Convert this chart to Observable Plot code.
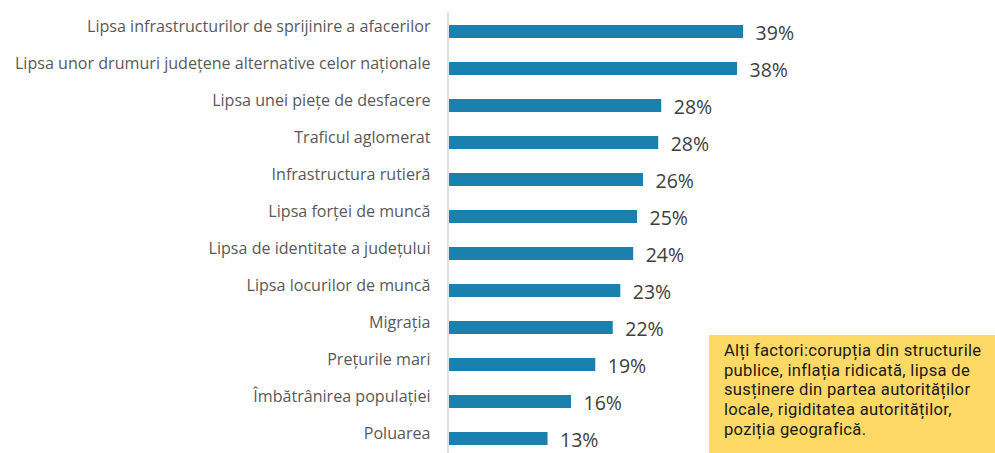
<!DOCTYPE html>
<html>
<head>
<meta charset="utf-8">
<script src="https://cdn.jsdelivr.net/npm/d3@7"></script>
<script src="https://cdn.jsdelivr.net/npm/@observablehq/plot@0.6"></script>
<style>
  html, body { margin: 0; padding: 0; background: #fff; }
  #wrap { position: relative; width: 995px; height: 453px; overflow: hidden; }
  #note {
    position: absolute; left: 709px; top: 335px; width: 286px; height: 118px;
    background: #ffd966; box-sizing: border-box; padding: 6px 0 0 15px;
    font-family: Roboto, sans-serif; font-size: 16.6px; letter-spacing: 0.3px; color: #1a1a1a;
    white-space: nowrap;
  }
  #note div { height: 19.7px; line-height: 19.7px; overflow: visible; }
</style>
</head>
<body>
<div id="wrap"></div>
<script>
const categories = [
  "Lipsa infrastructurilor de sprijinire a afacerilor",
  "Lipsa unor drumuri județene alternative celor naționale",
  "Lipsa unei piețe de desfacere",
  "Traficul aglomerat",
  "Infrastructura rutieră",
  "Lipsa forței de muncă",
  "Lipsa de identitate a județului",
  "Lipsa locurilor de muncă",
  "Migrația",
  "Prețurile mari",
  "Îmbătrânirea populației",
  "Poluarea"
];
// values (labels show them rounded)
const values = [38.8, 38.0, 28.0, 27.6, 25.6, 24.8, 24.3, 22.6, 21.6, 19.3, 16.1, 13.0];
const noteLines = [
  "Alți factori:corupția din structurile",
  "publice, inflația ridicată, lipsa de",
  "susținere din partea autorităților",
  "locale, rigiditatea autorităților,",
  "poziția geografică."
];

const data = categories.map((c, i) => ({category: c, value: values[i]}));

const chart = Plot.plot({
  width: 995,
  height: 453,
  marginLeft: 449,
  marginRight: 167,
  marginTop: 23.4,
  marginBottom: 6.4,
  style: {fontFamily: "'Open Sans', sans-serif", background: "#fff"},
  x: {domain: [0, 50], axis: null},
  y: {domain: categories, paddingInner: 0.66, paddingOuter: 0, label: null},
  marks: [
    Plot.barX(data, {x: "value", y: "category", fill: "#1a80ad"}),
    Plot.ruleX([0], {stroke: "#d9d9d9", strokeWidth: 1.5, dx: -1.5, insetTop: -11, insetBottom: -7}),
    Plot.axisY({tickSize: 0, tickPadding: 19, fontSize: 16.1, dy: -5, fill: "#595959", label: null}),
    Plot.text(data, {x: "value", y: "category", text: d => Math.round(d.value) + "%", textAnchor: "start", dx: 12, dy: 2, fontSize: 19.5, fill: "#404040"})
  ]
});
const wrap = document.getElementById("wrap");
wrap.appendChild(chart);
const note = document.createElement("div");
note.id = "note";
for (const line of noteLines) {
  const d = document.createElement("div");
  d.textContent = line;
  note.appendChild(d);
}
wrap.appendChild(note);
</script>
</body>
</html>
